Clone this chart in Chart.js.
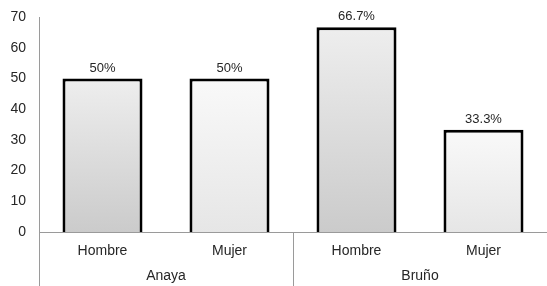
<!DOCTYPE html>
<html>
<head>
<meta charset="utf-8">
<script src="https://cdn.jsdelivr.net/npm/chart.js@4.4.1/dist/chart.umd.min.js"></script>
<style>
  html, body { margin: 0; padding: 0; background: #fff; }
  #wrap { width: 547px; height: 286px; }
</style>
</head>
<body>
<div id="wrap"><canvas id="chart"></canvas></div>
<script>
// data
var groups     = ['Anaya', 'Bruño'];
var categories = ['Hombre', 'Mujer', 'Hombre', 'Mujer'];
var values     = [50, 50, 66.7, 33.3];
var valueText  = ['50%', '50%', '66.7%', '33.3%'];
var yMax  = 70;
var yStep = 10;

var axisGrey = '#9a9a9a';
var textCol  = '#262626';
var font     = { family: '"Liberation Sans", Arial, sans-serif', size: 14 };

// vertical gradient for each bar, from its top down to the zero line
function barFill(c) {
    var chart = c.chart;
    if (!chart.chartArea || c.raw === undefined) return '#ddd';
    var y = chart.scales.y;
    var g = chart.ctx.createLinearGradient(0, y.getPixelForValue(c.raw), 0, y.getPixelForValue(0));
    if (categories[c.dataIndex] === 'Hombre') {
        g.addColorStop(0, '#eeeeee');
        g.addColorStop(1, '#cbcbcb');
    } else {
        g.addColorStop(0, '#f9f9f9');
        g.addColorStop(1, '#e6e6e6');
    }
    return g;
}

// axis line running to the bottom, group separator, value labels
var extras = {
    id: 'extras',
    afterDatasetsDraw: function(chart) {
        var ctx = chart.ctx, area = chart.chartArea, x = chart.scales.x;
        var h = chart.height;
        ctx.save();
        ctx.strokeStyle = axisGrey;
        ctx.lineWidth = 1;
        ctx.beginPath();
        ctx.moveTo(Math.round(area.left) + 0.5, area.top);
        ctx.lineTo(Math.round(area.left) + 0.5, h);
        var sep = (x.getPixelForValue(1) + x.getPixelForValue(2)) / 2;
        ctx.moveTo(Math.round(sep) + 0.5, area.bottom);
        ctx.lineTo(Math.round(sep) + 0.5, h);
        ctx.stroke();

        ctx.fillStyle = textCol;
        ctx.font = '13px ' + font.family;
        ctx.textAlign = 'center';
        ctx.textBaseline = 'bottom';
        chart.getDatasetMeta(0).data.forEach(function(bar, i) {
            ctx.fillText(valueText[i], bar.x, bar.y - 4);
        });
        ctx.restore();
    }
};

new Chart(document.getElementById('chart').getContext('2d'), {
    type: 'bar',
    data: {
        labels: categories,
        datasets: [{
            data: values,
            backgroundColor: barFill,
            borderColor: '#000',
            borderWidth: 3,
            borderSkipped: 'bottom',
            categoryPercentage: 1,
            barPercentage: 0.63
        }]
    },
    options: {
        responsive: true,
        maintainAspectRatio: false,
        animation: false,
        layout: { padding: { top: 17, right: 0, bottom: 0, left: 0 } },
        plugins: { legend: { display: false }, tooltip: { enabled: false } },
        scales: {
            y: {
                min: 0,
                max: yMax,
                ticks: { stepSize: yStep, color: textCol, font: font, padding: 13 },
                grid: { display: false, drawTicks: false },
                border: { display: false },
                afterFit: function(s) { s.width = 39; s.paddingTop = 0; s.paddingBottom = 0; }
            },
            x: {
                ticks: { color: textCol, font: font, padding: 11 },
                grid: { display: false, drawTicks: false },
                border: { display: true, color: axisGrey, width: 1 },
                afterFit: function(s) { s.height = 30; }
            },
            x2: {
                type: 'category',
                labels: groups,
                position: 'bottom',
                offset: true,
                ticks: { color: textCol, font: font, padding: 6 },
                grid: { display: false, drawTicks: false },
                border: { display: false },
                afterFit: function(s) { s.height = 24; }
            }
        }
    },
    plugins: [extras]
});
</script>
</body>
</html>
